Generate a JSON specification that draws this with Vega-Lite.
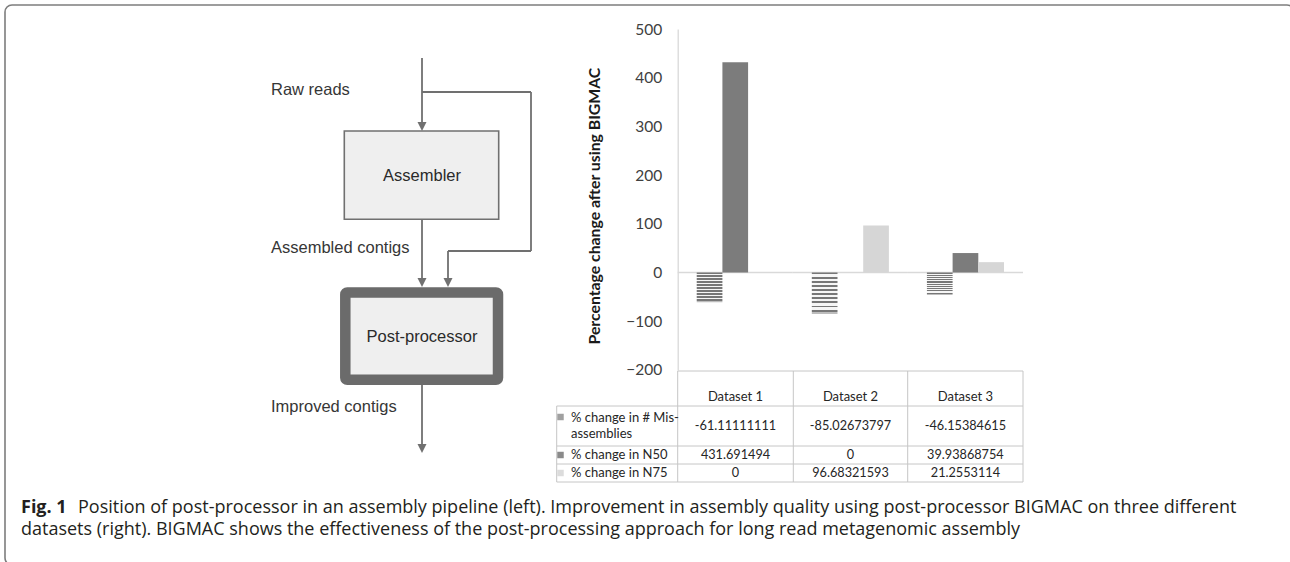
{
  "$schema": "https://vega.github.io/schema/vega-lite/v6.json",
  "width": 1290,
  "height": 562,
  "autosize": {"type": "fit", "contains": "padding"},
  "padding": {"left": 5, "top": 5, "right": -4, "bottom": -3},
  "background": "white",
  "config": {"view": {"stroke": "#7d7d7d", "strokeWidth": 1.6, "cornerRadius": 7}},
  "datasets": {
    "results": [
      {"dataset": "Dataset 1", "metric": "% change in # Mis-assemblies", "value": -61.11111111},
      {"dataset": "Dataset 2", "metric": "% change in # Mis-assemblies", "value": -85.02673797},
      {"dataset": "Dataset 3", "metric": "% change in # Mis-assemblies", "value": -46.15384615},
      {"dataset": "Dataset 1", "metric": "% change in N50", "value": 431.691494},
      {"dataset": "Dataset 2", "metric": "% change in N50", "value": 0},
      {"dataset": "Dataset 3", "metric": "% change in N50", "value": 39.93868754},
      {"dataset": "Dataset 1", "metric": "% change in N75", "value": 0},
      {"dataset": "Dataset 2", "metric": "% change in N75", "value": 96.68321593},
      {"dataset": "Dataset 3", "metric": "% change in N75", "value": 21.2553114}
    ],
    "tableCols": [
      {"dataset": "Dataset 1", "x": 730.5, "y": 392},
      {"dataset": "Dataset 2", "x": 845.5, "y": 392},
      {"dataset": "Dataset 3", "x": 960.4, "y": 392}
    ],
    "tableRows": [
      {"metric": "% change in # Mis-assemblies", "label": "% change in # Mis-\nassemblies", "x": 566, "y": 413, "vy": 421},
      {"metric": "% change in N50", "label": "% change in N50", "x": 566, "y": 450, "vy": 450},
      {"metric": "% change in N75", "label": "% change in N75", "x": 566, "y": 468, "vy": 468}
    ],
    "tableKeys": [
      {"metric": "% change in # Mis-assemblies", "x": 555.5, "y": 412},
      {"metric": "% change in N50", "x": 555.5, "y": 450},
      {"metric": "% change in N75", "x": 555.5, "y": 468}
    ],
    "tableGrid": [
      {"x": 672.7, "x2": 1018, "y": 366, "y2": 366},
      {"x": 551.7, "x2": 1018, "y": 401, "y2": 401},
      {"x": 551.7, "x2": 1018, "y": 441, "y2": 441},
      {"x": 551.7, "x2": 1018, "y": 459, "y2": 459},
      {"x": 551.7, "x2": 1018, "y": 477, "y2": 477},
      {"x": 551.7, "x2": 551.7, "y": 401, "y2": 477},
      {"x": 672.7, "x2": 672.7, "y": 366, "y2": 477},
      {"x": 788.3, "x2": 788.3, "y": 366, "y2": 477},
      {"x": 902.7, "x2": 902.7, "y": 366, "y2": 477},
      {"x": 1018, "x2": 1018, "y": 366, "y2": 477}
    ],
    "diagramLines": [
      {"x": 417, "x2": 417, "y": 53, "y2": 118},
      {"x": 417, "x2": 526, "y": 87, "y2": 87},
      {"x": 526, "x2": 526, "y": 87, "y2": 246},
      {"x": 526, "x2": 443, "y": 246, "y2": 246},
      {"x": 443, "x2": 443, "y": 246, "y2": 274},
      {"x": 417, "x2": 417, "y": 214, "y2": 274},
      {"x": 417, "x2": 417, "y": 380, "y2": 440}
    ],
    "arrowHeads": [
      {"x": 417, "y": 126},
      {"x": 443, "y": 282},
      {"x": 417, "y": 282},
      {"x": 417, "y": 448}
    ],
    "boxes": [
      {"name": "Assembler", "x": 339.3, "x2": 493.7, "y": 126, "y2": 214.3},
      {"name": "Post-processor", "x": 340.3, "x2": 493, "y": 287.5, "y2": 374.8}
    ],
    "diagramText": [
      {"kind": "side", "text": "Raw reads", "x": 266, "y": 85},
      {"kind": "side", "text": "Assembled contigs", "x": 266, "y": 243.3},
      {"kind": "side", "text": "Improved contigs", "x": 266, "y": 401.7},
      {"kind": "box", "text": "Assembler", "x": 417, "y": 170.7},
      {"kind": "box", "text": "Post-processor", "x": 417, "y": 332.3}
    ],
    "caption": [
      {"part": "bold", "text": "Fig. 1", "x": 16, "y": 503},
      {"part": "body", "text": "Position of post-processor in an assembly pipeline (left). Improvement in assembly quality using post-processor BIGMAC on three different", "x": 73, "y": 503},
      {"part": "body", "text": "datasets (right). BIGMAC shows the effectiveness of the post-processing approach for long read metagenomic assembly", "x": 16, "y": 525}
    ]
  },
  "resolve": {
    "scale": {"x": "independent", "y": "independent"},
    "axis": {"x": "independent", "y": "independent"}
  },
  "layer": [
    {
      "data": {"name": "results"},
      "encoding": {
        "x": {
          "field": "dataset", "type": "nominal", "axis": null,
          "scale": {"domain": ["Dataset 1", "Dataset 2", "Dataset 3"], "range": [672.7, 1018], "paddingInner": 0, "paddingOuter": 0}
        },
        "y": {
          "field": "value", "type": "quantitative",
          "scale": {"domain": [-200, 500], "range": [364.9, 24], "nice": false, "zero": false},
          "axis": {
            "orient": "left", "offset": -672.7,
            "values": [-200, -100, 0, 100, 200, 300, 400, 500],
            "domainColor": "#d9d9d9", "domainWidth": 1.3,
            "ticks": false, "grid": false, "labelPadding": 16,
            "labelFont": "Lato", "labelFontSize": 15.5, "labelColor": "#404040",
            "labelFlush": false, "labelOverlap": false,
            "title": "Percentage change after using BIGMAC",
            "titleFont": "Lato", "titleFontSize": 15.8, "titleFontWeight": "bold",
            "titleColor": "#1a1a1a", "titlePadding": 23, "titleY": 200.6
          }
        }
      },
      "layer": [
        {
          "transform": [{"filter": "datum.metric === '% change in # Mis-assemblies'"}],
          "mark": {"type": "bar", "fill": "transparent", "stroke": "#d9d9d9", "strokeWidth": 1.3},
          "encoding": {"y": {"datum": 0}, "y2": {"datum": 0}}
        },
        {
          "transform": [{"filter": "datum.metric === '% change in # Mis-assemblies'"}],
          "mark": {
            "type": "bar",
            "fill": {
              "gradient": "linear", "x1": 0, "y1": 0, "x2": 0, "y2": 1,
              "stops": [
                {"offset": 0, "color": "#777777"}, {"offset": 0.045, "color": "#777777"}, {"offset": 0.045, "color": "#f6f6f6"}, {"offset": 0.1, "color": "#f6f6f6"},
                {"offset": 0.1, "color": "#777777"}, {"offset": 0.145, "color": "#777777"}, {"offset": 0.145, "color": "#f6f6f6"}, {"offset": 0.2, "color": "#f6f6f6"},
                {"offset": 0.2, "color": "#777777"}, {"offset": 0.245, "color": "#777777"}, {"offset": 0.245, "color": "#f6f6f6"}, {"offset": 0.3, "color": "#f6f6f6"},
                {"offset": 0.3, "color": "#777777"}, {"offset": 0.345, "color": "#777777"}, {"offset": 0.345, "color": "#f6f6f6"}, {"offset": 0.4, "color": "#f6f6f6"},
                {"offset": 0.4, "color": "#777777"}, {"offset": 0.445, "color": "#777777"}, {"offset": 0.445, "color": "#f6f6f6"}, {"offset": 0.5, "color": "#f6f6f6"},
                {"offset": 0.5, "color": "#777777"}, {"offset": 0.545, "color": "#777777"}, {"offset": 0.545, "color": "#f6f6f6"}, {"offset": 0.6, "color": "#f6f6f6"},
                {"offset": 0.6, "color": "#777777"}, {"offset": 0.645, "color": "#777777"}, {"offset": 0.645, "color": "#f6f6f6"}, {"offset": 0.7, "color": "#f6f6f6"},
                {"offset": 0.7, "color": "#777777"}, {"offset": 0.745, "color": "#777777"}, {"offset": 0.745, "color": "#f6f6f6"}, {"offset": 0.8, "color": "#f6f6f6"},
                {"offset": 0.8, "color": "#777777"}, {"offset": 0.845, "color": "#777777"}, {"offset": 0.845, "color": "#f6f6f6"}, {"offset": 0.9, "color": "#f6f6f6"},
                {"offset": 0.9, "color": "#777777"}, {"offset": 0.945, "color": "#777777"}, {"offset": 0.945, "color": "#f6f6f6"}, {"offset": 0.96, "color": "#f6f6f6"},
                {"offset": 0.96, "color": "#bdbdbd"}, {"offset": 1, "color": "#bdbdbd"}
              ]
            }
          },
          "encoding": {
            "xOffset": {"field": "metric", "type": "nominal", "scale": {"domain": ["% change in # Mis-assemblies", "% change in N50", "% change in N75"], "paddingOuter": 0.74, "paddingInner": 0}},
            "y2": {"datum": 0}
          }
        },
        {
          "transform": [{"filter": "datum.metric === '% change in N50'"}],
          "mark": {"type": "bar", "fill": "#7c7c7c"},
          "encoding": {
            "xOffset": {"field": "metric", "type": "nominal", "scale": {"domain": ["% change in # Mis-assemblies", "% change in N50", "% change in N75"], "paddingOuter": 0.74, "paddingInner": 0}},
            "y2": {"datum": 0}
          }
        },
        {
          "transform": [{"filter": "datum.metric === '% change in N75'"}],
          "mark": {"type": "bar", "fill": "#d6d6d6"},
          "encoding": {
            "xOffset": {"field": "metric", "type": "nominal", "scale": {"domain": ["% change in # Mis-assemblies", "% change in N50", "% change in N75"], "paddingOuter": 0.74, "paddingInner": 0}},
            "y2": {"datum": 0}
          }
        }
      ]
    },
    {
      "encoding": {
        "x": {"field": "x", "type": "quantitative", "axis": null, "scale": {"domain": [0, 1285], "range": [0, 1285], "nice": false, "zero": false}},
        "y": {"field": "y", "type": "quantitative", "axis": null, "scale": {"domain": [0, 557], "range": [0, 557], "nice": false, "zero": false}}
      },
      "layer": [
        {
          "data": {"name": "tableGrid"},
          "mark": {"type": "rule", "stroke": "#c6c6c6", "strokeWidth": 1},
          "encoding": {"x2": {"field": "x2"}, "y2": {"field": "y2"}}
        },
        {
          "data": {"name": "tableCols"},
          "mark": {"type": "text", "font": "Lato", "fontSize": 13, "color": "#262626", "align": "center", "baseline": "middle"},
          "encoding": {"text": {"field": "dataset", "type": "nominal"}}
        },
        {
          "data": {"name": "results"},
          "transform": [
            {"lookup": "dataset", "from": {"data": {"name": "tableCols"}, "key": "dataset", "fields": ["x"]}},
            {"lookup": "metric", "from": {"data": {"name": "tableRows"}, "key": "metric", "fields": ["vy"]}, "as": ["y"]}
          ],
          "mark": {"type": "text", "font": "Lato", "fontSize": 12.7, "color": "#262626", "align": "center", "baseline": "middle"},
          "encoding": {"text": {"field": "value", "type": "nominal"}}
        },
        {
          "data": {"name": "tableRows"},
          "mark": {"type": "text", "font": "Lato", "fontSize": 13, "color": "#262626", "align": "left", "baseline": "middle", "lineBreak": "\n", "lineHeight": 16},
          "encoding": {"text": {"field": "label", "type": "nominal"}}
        },
        {
          "data": {"name": "tableKeys"},
          "mark": {"type": "point", "shape": "square", "size": 42, "filled": true, "strokeWidth": 0, "opacity": 1},
          "encoding": {
            "fill": {"field": "metric", "type": "nominal", "legend": null, "scale": {"domain": ["% change in # Mis-assemblies", "% change in N50", "% change in N75"], "range": ["#a0a0a0", "#8a8a8a", "#dcdcdc"]}}
          }
        },
        {
          "data": {"name": "diagramLines"},
          "mark": {"type": "rule", "stroke": "#707070", "strokeWidth": 1.8},
          "encoding": {"x2": {"field": "x2"}, "y2": {"field": "y2"}}
        },
        {
          "data": {"name": "arrowHeads"},
          "mark": {"type": "point", "shape": "M-1,-2L1,-2L0,0Z", "size": 81, "filled": true, "fill": "#707070", "strokeWidth": 0, "opacity": 1}
        },
        {
          "data": {"name": "boxes"},
          "transform": [{"filter": "datum.name === 'Assembler'"}],
          "mark": {"type": "rect", "fill": "#efefef", "stroke": "#707070", "strokeWidth": 1.6},
          "encoding": {"x2": {"field": "x2"}, "y2": {"field": "y2"}}
        },
        {
          "data": {"name": "boxes"},
          "transform": [{"filter": "datum.name === 'Post-processor'"}],
          "mark": {"type": "rect", "fill": "#efefef", "stroke": "#6b6b6b", "strokeWidth": 10.5, "cornerRadius": 2},
          "encoding": {"x2": {"field": "x2"}, "y2": {"field": "y2"}}
        },
        {
          "data": {"name": "diagramText"},
          "transform": [{"filter": "datum.kind === 'side'"}],
          "mark": {"type": "text", "font": "Liberation Sans", "fontSize": 16.5, "color": "#363636", "align": "left", "baseline": "middle"},
          "encoding": {"text": {"field": "text", "type": "nominal"}}
        },
        {
          "data": {"name": "diagramText"},
          "transform": [{"filter": "datum.kind === 'box'"}],
          "mark": {"type": "text", "font": "Liberation Sans", "fontSize": 16.5, "color": "#2a2a2a", "align": "center", "baseline": "middle"},
          "encoding": {"text": {"field": "text", "type": "nominal"}}
        },
        {
          "data": {"name": "caption"},
          "transform": [{"filter": "datum.part === 'bold'"}],
          "mark": {"type": "text", "font": "Open Sans", "fontSize": 18, "fontWeight": "bold", "color": "#231f20", "align": "left", "baseline": "middle"},
          "encoding": {"text": {"field": "text", "type": "nominal"}}
        },
        {
          "data": {"name": "caption"},
          "transform": [{"filter": "datum.part === 'body'"}],
          "mark": {"type": "text", "font": "Open Sans", "fontSize": 18, "color": "#231f20", "align": "left", "baseline": "middle"},
          "encoding": {"text": {"field": "text", "type": "nominal"}}
        }
      ]
    }
  ]
}
